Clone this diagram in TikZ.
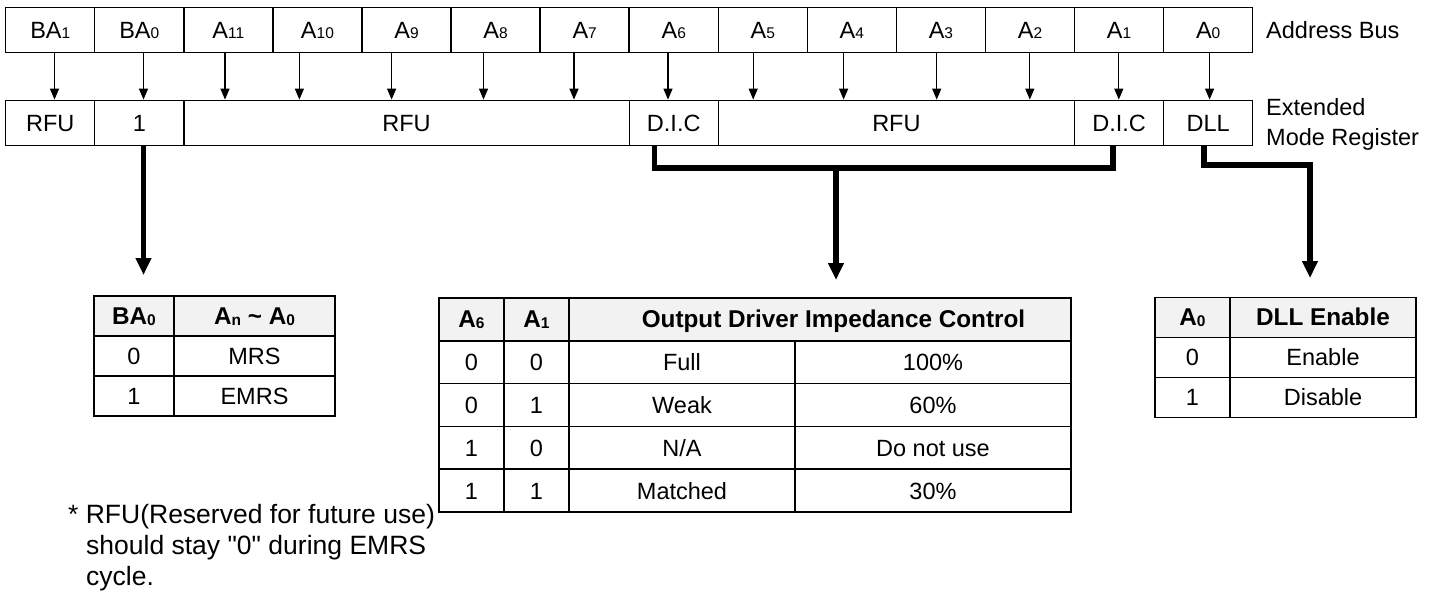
\documentclass[tikz,border=0pt]{standalone}
\usepackage{fontspec}
\setmainfont[Ligatures=TeXOff]{Liberation Sans}
\usetikzlibrary{arrows.meta}
\newcommand\lo[1]{\raisebox{-0.8pt}{\fontsize{15.5}{15.5}\selectfont #1}}
\begin{document}
\begin{tikzpicture}[x=1pt,y=-1pt,
  font=\fontsize{23.5}{28}\selectfont,
  regbox/.style={draw, line width=1.4pt, inner sep=0pt, minimum height=45pt, text height=16.8pt, text depth=0pt},
  tcell/.style={draw, line width=1.7pt, inner sep=0pt, text height=16.8pt, text depth=0pt},
  thead/.style={tcell, fill=black!5, font=\fontsize{24.3}{28}\selectfont\bfseries},
  thinarrow/.style={line width=1.3pt, -{Triangle[width=9pt,length=11pt]}},
  thickline/.style={line width=5.5pt, line join=miter},
  thickarrow/.style={line width=5.5pt, line join=miter, -{Triangle[width=15pt,length=17pt]}},
  notetext/.style={anchor=base west, inner sep=0pt, font=\fontsize{26.5}{31}\selectfont}
]
\useasboundingbox (0,0) rectangle (1443,596);

% Address bus row
\foreach \i/\t in {0/BA\lo{1},1/BA\lo{0},2/A\lo{11},3/A\lo{10},4/A\lo{9},5/A\lo{8},6/A\lo{7},7/A\lo{6},8/A\lo{5},9/A\lo{4},10/A\lo{3},11/A\lo{2},12/A\lo{1},13/A\lo{0}}
  \node[regbox, minimum width=89.07pt] (b\i) at ({5.7+89.07*(\i+0.5)}, 29.8) {\t};

% Extended mode register row
\node[regbox, minimum width=89.07pt]  (r0) at (50.24,122.8)  {RFU};
\node[regbox, minimum width=89.07pt]  (r1) at (139.31,122.8) {1};
\node[regbox, minimum width=445.35pt] (r2) at (406.52,122.8) {RFU};
\node[regbox, minimum width=89.07pt]  (r3) at (673.73,122.8) {D.I.C};
\node[regbox, minimum width=356.28pt] (r4) at (896.40,122.8) {RFU};
\node[regbox, minimum width=89.07pt]  (r5) at (1119.08,122.8) {D.I.C};
\node[regbox, minimum width=89.07pt]  (r6) at (1208.15,122.8) {DLL};

\node[anchor=west, inner sep=0pt] (addr) at (1266,29.8) {Address Bus};
\node[anchor=west, inner sep=0pt, align=left, font=\fontsize{23.5}{30}\selectfont] (emr) at (1266,124) {Extended\\Mode Register};

% thin arrows
\foreach \i/\x/\r in {0/54.5/r0,1/143.5/r1,2/225/r2,3/299.4/r2,4/391.6/r2,5/483.5/r2,6/574/r2,7/668/r3,8/753.2/r4,9/843.6/r4,10/936.7/r4,11/1029.8/r4,12/1118.8/r5,13/1209.6/r6}
  \draw[thinarrow] (b\i.south -| \x,0) -- (\r.north -| \x,0);

% thick connectors
\coordinate (batip) at (143.5,275);
\draw[thickarrow] (r1.south -| batip) -- (batip);

\coordinate (dicjoin) at (836,168);
\coordinate (dictip) at (836,280);
\draw[thickline] (r3.south -| 654.5,0) -- (654.5,168) -- (1113,168) -- (r5.south -| 1113,0);
\draw[thickarrow] (dicjoin) -- (dictip);

\coordinate (dllcorner) at (1204,165);
\coordinate (dlltip) at (1310,278);
\draw[thickarrow] (r6.south -| dllcorner) -- (dllcorner) -- (dllcorner -| dlltip) -- (dlltip);

% Table 1
\node[thead, minimum width=80pt,  minimum height=40pt] (t1a) at (134,316)   {BA\lo{0}};
\node[thead, minimum width=161pt, minimum height=40pt] (t1b) at (254.5,316) {A\lo{n} \textasciitilde{} A\lo{0}};
\node[tcell, minimum width=80pt,  minimum height=40pt] (t1c) at (134,356)   {0};
\node[tcell, minimum width=161pt, minimum height=40pt] (t1d) at (254.5,356) {MRS};
\node[tcell, minimum width=80pt,  minimum height=40pt] (t1e) at (134,396)   {1};
\node[tcell, minimum width=161pt, minimum height=40pt] (t1f) at (254.5,396) {EMRS};

% Table 2
\node[thead, minimum width=65pt,  minimum height=42.8pt] (t2a) at (471.5,319.4) {A\lo{6}};
\node[thead, minimum width=65pt,  minimum height=42.8pt] (t2b) at (536.5,319.4) {A\lo{1}};
\node[thead, minimum width=502pt, minimum height=42.8pt] (t2c) at (820,319.4)   {\hspace*{27pt}Output Driver Impedance Control};
\foreach \r/\y/\p/\q/\m/\n in {1/362.2/0/0/Full/100\%, 2/405/0/1/Weak/60\%, 3/447.8/1/0/N\slash A/Do not use, 4/490.6/1/1/Matched/30\%}{
  \node[tcell, minimum width=65pt,  minimum height=42.8pt] (t2p\r) at (471.5,\y) {\p};
  \node[tcell, minimum width=65pt,  minimum height=42.8pt] (t2q\r) at (536.5,\y) {\q};
  \node[tcell, minimum width=226pt, minimum height=42.8pt] (t2m\r) at (682,\y)   {\m};
  \node[tcell, minimum width=276pt, minimum height=42.8pt] (t2n\r) at (933,\y)   {\n};
}

% Table 3
\node[thead, minimum width=75pt,  minimum height=40pt] (t3a) at (1192.5,317.5) {A\lo{0}};
\node[thead, minimum width=186pt, minimum height=40pt] (t3b) at (1323,317.5)   {DLL Enable};
\node[tcell, minimum width=75pt,  minimum height=40pt] (t3c) at (1192.5,357.5) {0};
\node[tcell, minimum width=186pt, minimum height=40pt] (t3d) at (1323,357.5)   {Enable};
\node[tcell, minimum width=75pt,  minimum height=40pt] (t3e) at (1192.5,397.5) {1};
\node[tcell, minimum width=186pt, minimum height=40pt] (t3f) at (1323,397.5)   {Disable};

% footnote
\node[notetext] (fn1) at (68,523) {* RFU(Reserved for future use)};
\node[notetext] (fn2) at (86,554) {should stay "0" during EMRS};
\node[notetext] (fn3) at (86,585) {cycle.};
\end{tikzpicture}
\end{document}
